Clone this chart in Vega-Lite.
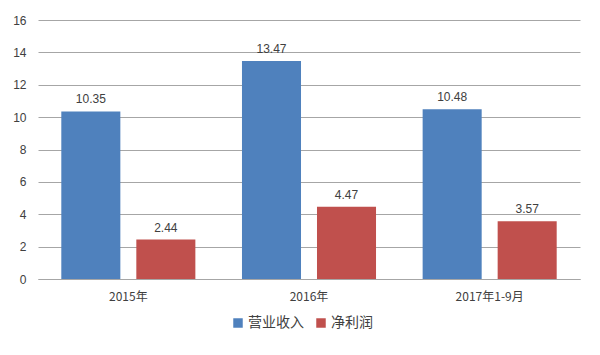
{
  "$schema": "https://vega.github.io/schema/vega-lite/v6.json",
  "width": 542,
  "height": 259,
  "autosize": {"type": "none"},
  "padding": {"left": 38, "top": 20, "right": 20, "bottom": 76},
  "background": "white",
  "config": {
    "view": {"stroke": null},
    "font": "Liberation Sans",
    "axis": {"labelFont": "Liberation Sans", "labelColor": "#404040", "labelFontSize": 12}
  },
  "data": {
    "values": [
      {"period": "2015年", "series": "营业收入", "value": 10.35},
      {"period": "2015年", "series": "净利润", "value": 2.44},
      {"period": "2016年", "series": "营业收入", "value": 13.47},
      {"period": "2016年", "series": "净利润", "value": 4.47},
      {"period": "2017年1-9月", "series": "营业收入", "value": 10.48},
      {"period": "2017年1-9月", "series": "净利润", "value": 3.57}
    ]
  },
  "encoding": {
    "x": {
      "field": "period", "type": "nominal", "sort": null,
      "scale": {"paddingInner": 0.258, "paddingOuter": 0.129},
      "axis": {"title": null, "labelAngle": 0, "ticks": false, "domainColor": "#a6a6a6", "labelPadding": 12, "labelFont": "Noto Sans CJK SC"}
    },
    "xOffset": {"field": "series", "type": "nominal", "sort": ["营业收入", "净利润"], "scale": {"paddingInner": 0.213}},
    "y": {
      "field": "value", "type": "quantitative",
      "scale": {"domain": [0, 16]},
      "axis": {"title": null, "values": [0, 2, 4, 6, 8, 10, 12, 14, 16], "domain": false, "ticks": false, "gridColor": "#a6a6a6", "labelPadding": 12}
    }
  },
  "layer": [
    {
      "mark": {"type": "bar"},
      "encoding": {
        "color": {
          "field": "series", "type": "nominal", "sort": ["营业收入", "净利润"],
          "scale": {"domain": ["营业收入", "净利润"], "range": ["#4F81BD", "#C0504D"]},
          "legend": {"title": null, "orient": "none", "legendX": 193, "legendY": 296, "direction": "horizontal", "symbolType": "square", "symbolSize": 90, "symbolStrokeWidth": 0, "labelFont": "Noto Sans CJK SC", "labelFontSize": 14, "labelColor": "#404040", "labelOffset": 3, "columnPadding": 10}
        }
      }
    },
    {
      "mark": {"type": "text", "dy": -12, "fontSize": 12, "color": "#404040"},
      "encoding": {
        "text": {"field": "value", "type": "quantitative", "format": ".2f"}
      }
    }
  ]
}
